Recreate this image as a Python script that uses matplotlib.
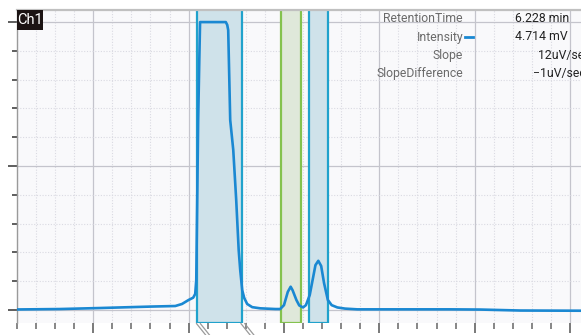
import numpy as np
import matplotlib.pyplot as plt
import matplotlib.patches as mpatches
import matplotlib.transforms as mtransforms

plt.rcParams['font.family'] = ['Roboto', 'DejaVu Sans']

# chromatogram trace (time in min, intensity in mV)
t = [0.20, 0.65, 1.07, 1.60, 1.86, 1.93, 2.00, 2.048, 2.069, 2.08, 2.09, 2.10, 2.112, 2.12,
     2.39, 2.405, 2.415, 2.426, 2.436, 2.468, 2.499, 2.525, 2.541, 2.562, 2.583, 2.614, 2.667,
     2.75, 2.91, 2.96, 3.00, 3.04, 3.07, 3.09, 3.13, 3.16, 3.20, 3.23, 3.27, 3.30, 3.33, 3.36,
     3.39, 3.42, 3.46, 3.50, 3.56, 3.64, 3.77, 4.74, 5.06, 5.48, 6.12]
mv = [0.02, 0.035, 0.07, 0.12, 0.14, 0.21, 0.35, 0.43, 0.56, 1.04, 3.8, 6.6, 8.7, 10.0,
      10.0, 9.9, 9.72, 8.09, 6.6, 5.56, 3.82, 2.08, 1.39, 0.69, 0.42, 0.21, 0.10,
      0.06, 0.035, 0.035, 0.17, 0.63, 0.81, 0.69, 0.35, 0.16, 0.09, 0.17, 0.52, 1.04, 1.56, 1.71,
      1.53, 0.94, 0.35, 0.17, 0.09, 0.05, 0.024, 0.024, 0.017, -0.017, -0.024]

# integration windows (start, end, kind)
win_start = [2.093, 2.967, 3.264]
win_end = [2.559, 3.180, 3.466]
win_kind = ['blue', 'green', 'blue']

info_labels = ['RetentionTime', 'Intensity', 'Slope', 'SlopeDifference']
info_values = ['6.228 min', '4.714 mV', '12uV/sec', '\u22121uV/sec']

fig = plt.figure(figsize=(5.81, 3.35), dpi=100)
ax = fig.add_axes([17/581, 12/335, 564/581, 313/335])
ax.set_facecolor('#f9f9fb')

ymin, ymax = -0.45, 10.42
ax.set_xlim(0.2, 6.115)
ax.set_ylim(ymin, ymax)

ax.set_xticks(np.arange(1, 7, 1))
ax.set_xticks(np.arange(0.2, 6.2, 0.2), minor=True)
ax.set_yticks([0, 5, 10])
ax.set_yticks(np.arange(0, 11, 1), minor=True)
ax.grid(which='major', color='#c4c4cc', lw=0.9)
ax.grid(which='minor', color='#dadae2', lw=0.8, ls=(0, (1, 1.5)))
ax.set_axisbelow(True)
ax.tick_params(axis='y', which='major', length=6.5, width=1.1, color='#333333')
ax.tick_params(axis='y', which='minor', length=3.5, width=1.1, color='#333333')
ax.tick_params(axis='x', which='major', length=7.5, width=1.1, color='#555555')
ax.tick_params(axis='x', which='minor', length=4.5, width=1.1, color='#666666')
ax.set_xticklabels([])
ax.set_yticklabels([])
ax.set_xticklabels([], minor=True)
ax.set_yticklabels([], minor=True)

ax.spines['right'].set_visible(False)
ax.spines['bottom'].set_visible(False)
ax.spines['top'].set_color('#c0c0c0')
ax.spines['top'].set_linewidth(1.6)
ax.spines['left'].set_color('#9a9a9a')
ax.spines['left'].set_linewidth(1.0)

colors = {'blue': ('#cfe2ea', '#20a2cc'), 'green': ('#dfe8da', '#84c24e')}
for s, e, k in zip(win_start, win_end, win_kind):
    fc, ec = colors[k]
    ax.add_patch(mpatches.Rectangle((s, ymin + 0.015), e - s, ymax - ymin + 0.2,
                                    facecolor=fc, edgecolor=ec, lw=1.6, zorder=1.5))

ax.plot(t, mv, color='#1a88d2', lw=1.9, zorder=3, solid_joinstyle='round')

# little markers under the first window
trans = mtransforms.blended_transform_factory(ax.transData, ax.transAxes)
for xe in (win_start[0], win_end[0]):
    for off in (0.0, 0.04):
        ax.plot([xe + off - 0.01, xe + off + 0.09], [-0.002, -0.04], color='#9a9a9a',
                lw=0.9, transform=trans, clip_on=False)

# Ch1 tag
ax.add_patch(mpatches.Rectangle((0, 1 - 20/313), 26/564, 20/313, transform=ax.transAxes,
                                facecolor='#1c1414', edgecolor='none', zorder=5, clip_on=False))
ax.text(13/564, 1 - 10/313, 'Ch1', transform=ax.transAxes, color='white', fontsize=10.5,
        ha='center', va='center', zorder=6)

# cursor info panel
ys = [19, 37, 55, 73]
vx = [515, 515, 538, 533]
for lab, val, yp, xv in zip(info_labels, info_values, ys, vx):
    fig.text(463/581, 1 - yp/335, lab, color='#6a6a6a', fontsize=8.8, ha='right', va='center')
    fig.text(xv/581, 1 - yp/335, val, color='#222222', fontsize=8.8, ha='left', va='center')
fig.lines.append(plt.Line2D([465/581, 473/581], [1 - 37/335, 1 - 37/335],
                            transform=fig.transFigure, color='#1a88d2', lw=2))

fig.savefig('out.png', dpi=100)
